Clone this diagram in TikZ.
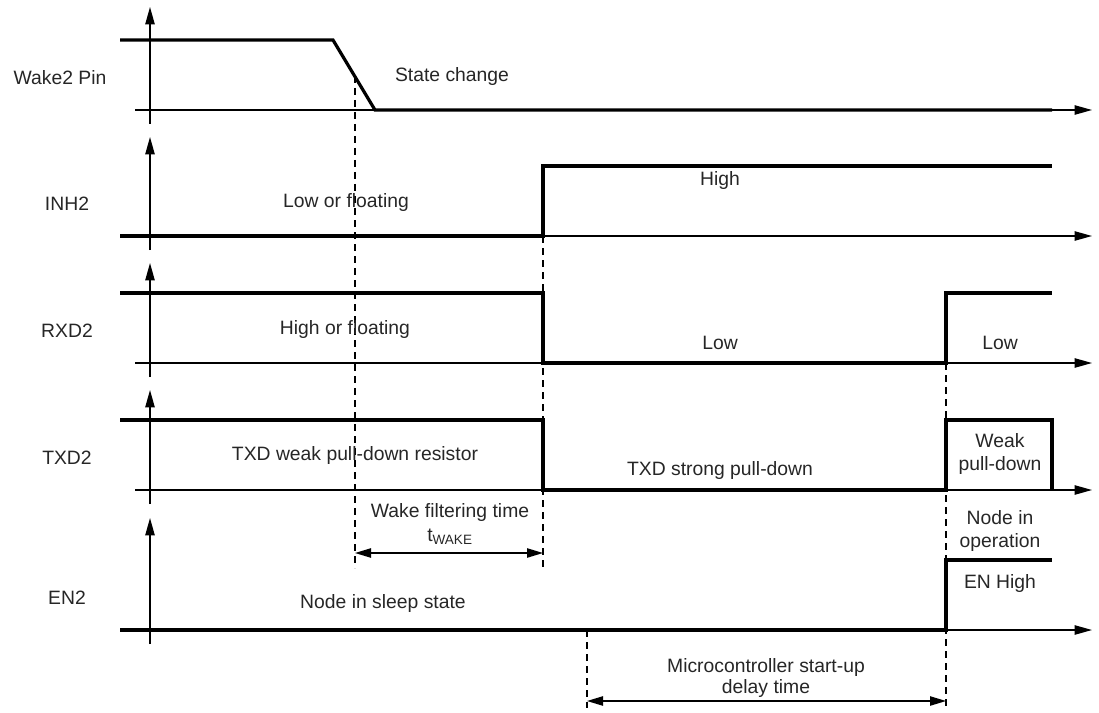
\documentclass[tikz,border=0pt]{standalone}
\usepackage{fontspec}
\setmainfont{Liberation Sans}
\usetikzlibrary{arrows.meta,positioning}

\begin{document}
\begin{tikzpicture}[x=0.75pt,y=-0.75pt,font=\fontsize{14.5}{17}\selectfont,
  axis/.style={line width=1pt,-{Triangle[length=13pt,width=7pt]}},
  sig/.style={line width=2.4pt,line join=miter},
  guide/.style={line width=0.8pt,dash pattern=on 5pt off 4pt},
  span/.style={line width=1pt,{Triangle[length=12pt,width=7pt]}-{Triangle[length=12pt,width=7pt]}},
  txt/.style={text=black!85,inner sep=0pt,align=center}]
\useasboundingbox (0,0) rectangle (1099,713);

% axes and signal names
\foreach \nm/\xl/\yb/\yt/\id in {Wake2 Pin/60/110/7/wk, INH2/67/236/137/inh, RXD2/67/363/263/rxd, TXD2/67/490/390/txd, EN2/67/630/518/en}{
  \draw[axis] (150,\yb+14) -- (150,\yt);
  \draw[axis] (135,\yb) -- (1092,\yb);
  \node[txt] (lbl-\id) at (\xl,\yb-32) {\nm};
}

% guide lines
\coordinate (wkTop) at (355,76);
\coordinate (wkBot) at (355,568);
\coordinate (inhTop) at (543,236);
\coordinate (inhBot) at (543,568);
\coordinate (enTop) at (946,363);
\coordinate (enBot) at (946,708);
\coordinate (mcTop) at (587,630);
\coordinate (mcBot) at (587,708);
\draw[guide] (wkTop) -- (wkBot);
\draw[guide] (inhTop) -- (inhBot);
\draw[guide] (enTop) -- (enBot);
\draw[guide] (mcTop) -- (mcBot);

% signals
\draw[sig] (120,40) -- (333,40) -- (375,110) -- (1052,110);
\draw[sig] (120,236) -- (543,236) -- (543,166) -- (1052,166);
\draw[sig] (120,293) -- (543,293) -- (543,363) -- (946,363) -- (946,293) -- (1052,293);
\draw[sig] (120,420) -- (543,420) -- (543,490) -- (946,490) -- (946,420) -- (1052,420) -- (1052,490);
\draw[sig] (120,630) -- (946,630) -- (946,560) -- (1052,560);

% state texts
\node[txt] (stchg) at (452,77) {State change};
\node[txt] (inhlow) at (346,203) {Low or floating};
\node[txt] (inhhigh) at (720,181) {High};
\node[txt] (rxdhigh) at (345,329) {High or floating};
\node[txt] (rxdlow) at (720,343) {Low};
\node[txt] (rxdlow2) at (1000,343) {Low};
\node[txt] (txdweak) at (355,455) {TXD weak pull-down resistor};
\node[txt] (txdstrong) at (720,470) {TXD strong pull-down};
\node[txt] (txdweak2) at (1000,454) {Weak\\pull-down};
\node[txt] (enop) at (1000,531) {Node in\\operation};
\node[txt] (enhigh) at (1000,583) {EN High};
\node[txt] (ensleep) at (383,603) {Node in sleep state};

% timing spans
\coordinate (twA) at (355,553);
\coordinate (twB) at (543,553);
\draw[span] (twA) -- (twB);
\node[txt] (twlbl) at (450,512) {Wake filtering time};
\node[txt] (twsym) at (450,537) {t\textsubscript{WAKE}};
\coordinate (mcA) at (587,701);
\coordinate (mcB) at (946,701);
\draw[span] (mcA) -- (mcB);
\node[txt] (mclbl) at (766,667) {Microcontroller start-up};
\node[txt] (mclbl2) at (766,688) {delay time};
\end{tikzpicture}
\end{document}
